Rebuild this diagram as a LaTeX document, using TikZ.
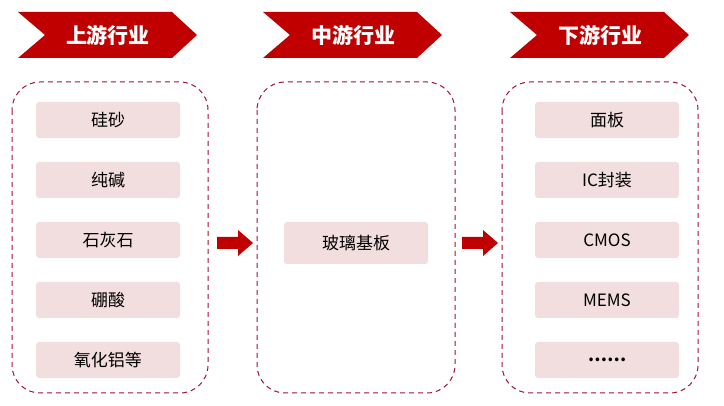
\documentclass[tikz,border=0pt]{standalone}
\usepackage{fontspec}
\setmainfont{Noto Sans CJK SC}
\usetikzlibrary{positioning}
\definecolor{hdred}{RGB}{192,0,0}
\definecolor{itembg}{RGB}{242,222,222}
\definecolor{dashred}{RGB}{160,20,50}
\tikzset{
  item/.style={fill=itembg,rounded corners=3pt,minimum width=144pt,minimum height=36pt,font=\fontsize{17}{19}\selectfont},
  group/.style={draw=dashred,dashed,line width=1pt,dash pattern=on 5pt off 4pt,rounded corners=28pt},
  title/.style={text=white,font=\fontsize{21}{24}\selectfont\bfseries}
}
\newcommand{\chevron}[3]{% x, name, text
  \fill[hdred] (#1,12) -- ++(154,0) -- ++(25,23) -- ++(-25,23) -- ++(-154,0) -- ++(27,-23) -- cycle;
  \node[title] (#2) at (#1+90,35) {#3};
}
\newcommand{\blockarrow}[2]{% x, name
  \fill[hdred] (#1,237) -- ++(21,0) -- ++(0,-7) -- ++(15,13) -- ++(-15,13) -- ++(0,-7) -- ++(-21,0) -- cycle;
  \coordinate (#2) at (#1+18,243);
}
\begin{document}
\begin{tikzpicture}[x=1pt,y=-1pt]
  \useasboundingbox (0,0) rectangle (724,406);
  %headers
  \chevron{18}{up}{上游行业}
  \chevron{263}{mid}{中游行业}
  \chevron{510}{down}{下游行业}

  %groups
  \draw[group] (12,82) rectangle (208,393);
  \draw[group] (257,82) rectangle (455,393);
  \draw[group] (502,82) rectangle (698,393);

  %upstream
  \foreach \t [count=\i] in {硅砂,纯碱,石灰石,硼酸,氧化铝等}
    \node[item] (u\i) at (108,60+60*\i) {\t};
  %midstream
  \node[item,minimum height=42pt] (m1) at (356,243) {玻璃基板};
  %downstream
  \foreach \t [count=\i] in {面板,IC封装,CMOS,MEMS,\textbf{……}}
    \node[item] (d\i) at (607,60+60*\i) {\t};

  %arrows
  \blockarrow{217}{a1}
  \blockarrow{462}{a2}
\end{tikzpicture}
\end{document}
